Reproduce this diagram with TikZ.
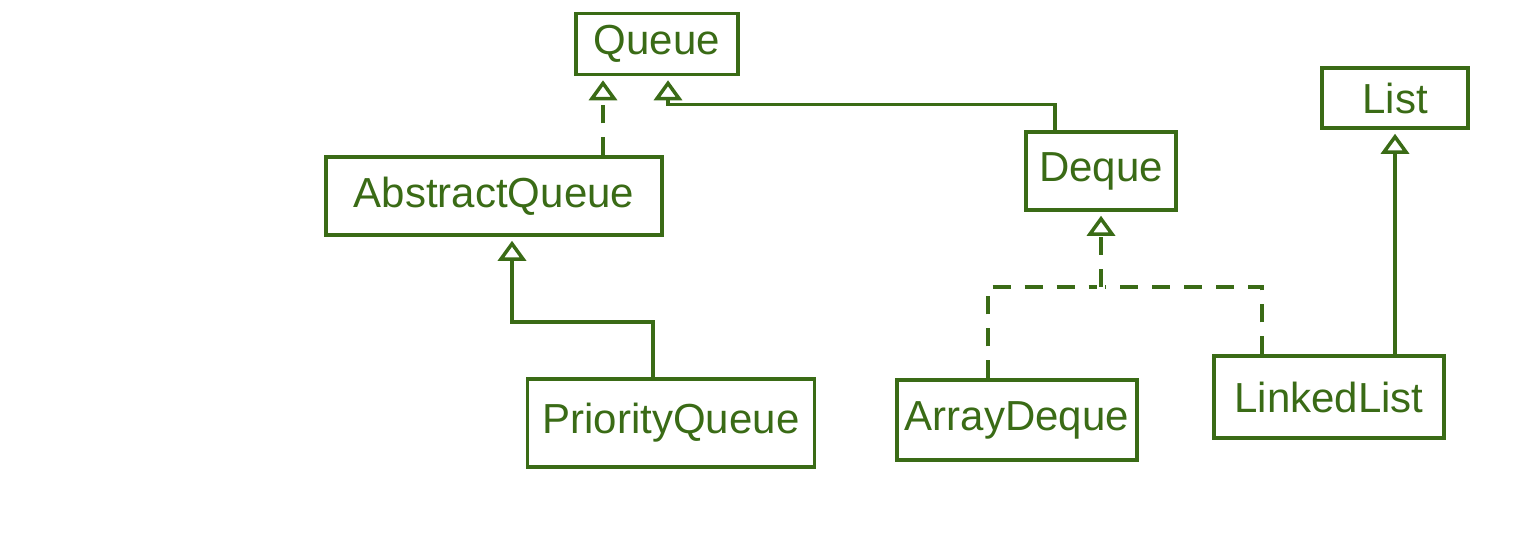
\documentclass[tikz,border=0pt]{standalone}
\usepackage{fontspec}
\setmainfont{Liberation Sans}
\usepackage{xcolor}
\usetikzlibrary{arrows.meta}
\definecolor{penGreen}{RGB}{58,107,22}

\tikzset{
	umlbox/.style={rectangle, draw=penGreen, line width=3.5pt, text=penGreen,
		inner sep=4pt, font=\fontsize{42}{48}\selectfont},
	inherit/.style={draw=penGreen, line width=3.5pt, shorten >=4pt,
		-{Triangle[open, length=20pt, width=28pt, line width=3.5pt]}},
	realize/.style={inherit, dash pattern=on 18pt off 14pt}
}

\begin{document}
\begin{tikzpicture}[x=1pt, y=-1pt]
				\useasboundingbox (0,0) rectangle (1514,536);
				% classes and interfaces
				\node[umlbox, minimum width=162pt, minimum height=61pt] (queue) at (657,44) {Queue};
				\node[umlbox, minimum width=336pt, minimum height=78pt] (abstractqueue) at (494,196) {AbstractQueue};
				\node[umlbox, minimum width=150pt, minimum height=78pt] (deque) at (1101,171) {Deque};
				\node[umlbox, minimum width=146pt, minimum height=60pt] (list) at (1395,98) {List};
				\node[umlbox, minimum width=287pt, minimum height=88pt] (priorityqueue) at (671,423) {PriorityQueue};
				\node[umlbox, minimum width=240pt, minimum height=80pt] (arraydeque) at (1017,420) {ArrayDeque};
				\node[umlbox, minimum width=230pt, minimum height=82pt] (linkedlist) at (1329,397) {LinkedList};
				
				% junction of the two dashed lines under Deque
				\coordinate (merge) at ([yshift=-75pt]deque.south);
				
				% connectors
				\draw[realize] ([xshift=-54pt]abstractqueue.north -| queue.south) -- ([xshift=-54pt]queue.south);
				\draw[inherit] ([xshift=-46pt]deque.north) |- ([xshift=11pt, yshift=-28pt]queue.south) -- ([xshift=11pt]queue.south);
				\draw[inherit] ([xshift=-18pt]priorityqueue.north) |- ([xshift=18pt, yshift=-85pt]abstractqueue.south) -- ([xshift=18pt]abstractqueue.south);
				\draw[realize, -] ([xshift=-29pt]arraydeque.north) |- (merge);
				\draw[realize, -] ([xshift=-67pt]linkedlist.north) |- (merge);
				\draw[realize] (merge) -- (deque.south);
				\draw[inherit] (list.south |- linkedlist.north) -- (list.south);
			\end{tikzpicture}
\end{document}
